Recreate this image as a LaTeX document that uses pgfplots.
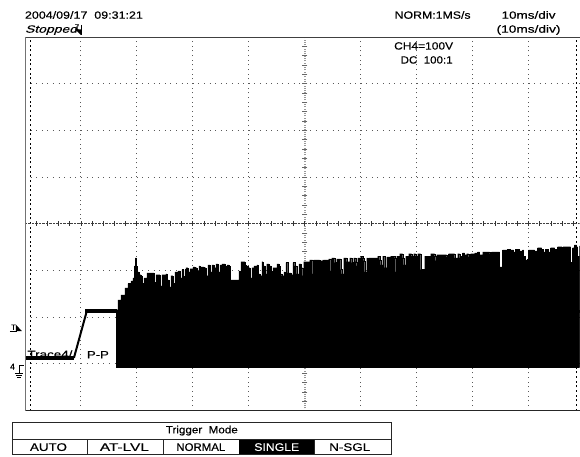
\documentclass[border=0pt]{standalone}
\usepackage{fontspec}
\setmainfont[FakeBold=0.35]{Liberation Sans}
\newfontfamily\fbi[FakeBold=0.35,FakeSlant=0.25]{Liberation Sans}
\usepackage{pgfplots}
\usepackage{pgfplotstable}
\pgfplotsset{compat=1.18}
\definecolor{griddot}{gray}{0.35}
\pgfplotstableread{
ms V
-33.66 -184
-33.39 -163
-32.86 -152
-32.14 -137
-31.61 -128
-31.07 -122
-30.71 -116
-30.45 -90
-30.27 -73
-30.09 -90
-30 -103
-29.64 -109
-29.29 -111
-29.11 -128
-28.75 -116
-28.21 -105
-27.14 -105
-26.96 -124
-26.79 -139
-26.61 -109
-26.07 -109
-25.89 -133
-25.54 -109
-24.82 -107
-24.64 -120
-24.29 -135
-23.93 -111
-23.57 -128
-23.21 -103
-22.68 -101
-22.32 -116
-21.96 -98
-21.79 -113
-21.43 -98
-21.25 -94
-20.89 -103
-20.54 -96
-20 -92
-19.64 -94
-19.29 -101
-18.93 -90
-18.75 -116
-18.57 -92
-18.04 -94
-17.68 -111
-17.32 -88
-16.96 -103
-16.61 -88
-16.25 -94
-15.89 -86
-15.54 -103
-15.18 -88
-14.82 -86
-14.29 -90
-14.11 -118
-13.93 -88
-13.57 -90
-13.39 -120
-11.96 -120
-11.79 -101
-11.61 -120
-11.43 -81
-10.71 -88
-10.54 -90
-10.18 -94
-9.82 -116
-9.46 -94
-9.11 -90
-8.57 -88
-8.39 -107
-8.04 -111
-7.68 -81
-7.5 -90
-7.14 -107
-6.79 -86
-6.43 -90
-6.07 -101
-5.89 -116
-5.71 -94
-5.36 -94
-5 -86
-4.64 -90
-4.46 -107
-4.11 -111
-3.75 -103
-3.57 -116
-3.39 -83
-3.04 -105
-2.5 -109
-2.14 -83
-1.79 -90
-1.43 -107
-1.07 -86
-0.71 -94
-0.36 -111
-0.18 -81
0.36 -81
0.89 -77
1.25 -77
1.43 -107
1.61 -77
2.32 -77
2.68 -79
3.21 -77
3.3 -107
3.39 -77
4.29 -75
4.64 -101
4.82 -73
5.36 -83
5.71 -75
6.25 -75
6.43 -98
6.61 -107
6.96 -73
7.5 -81
8.04 -73
8.39 -83
8.75 -73
9.11 -81
9.29 -90
9.46 -73
10 -69
10.36 -73
10.54 -79
10.71 -103
11.07 -73
11.25 -103
11.43 -73
12.5 -73
13.04 -69
13.39 -77
13.57 -88
13.93 -69
14.29 -94
14.46 -94
14.64 -71
15.36 -69
16.07 -73
16.25 -103
16.43 -69
16.96 -64
17.5 -73
17.68 -88
18.04 -69
18.57 -64
19.11 -69
19.46 -64
19.82 -69
20.18 -64
20.54 -64
20.71 -98
21.25 -98
21.43 -69
21.96 -69
22.5 -64
23.21 -69
23.39 -79
23.57 -66
25 -66
25.36 -71
25.71 -64
26.43 -64
26.79 -73
27.32 -64
27.68 -73
27.86 -69
28.21 -62
28.57 -66
28.93 -64
29.29 -71
29.64 -64
30.36 -62
30.89 -60
31.25 -66
31.79 -60
32.5 -60
33.04 -64
33.39 -60
34.73 -60
34.82 -92
35.27 -92
35.36 -56
36.07 -56
36.25 -54
36.79 -56
37.32 -60
37.68 -54
38.39 -58
38.93 -56
39.11 -69
39.46 -77
39.82 -75
40 -56
40.54 -56
41.07 -58
41.61 -51
42.32 -54
42.68 -60
43.04 -54
43.57 -60
43.93 -51
44.64 -54
45.18 -49
45.89 -49
45.98 -83
46.16 -49
47.32 -49
47.5 -83
47.77 -83
47.86 -51
48.21 -45
48.57 -49
48.75 -69
49.107 -47
}\envelope
\newcommand{\lbl}[4]{\node[inner sep=0pt,outer sep=0pt] at (#1,#2) {\resizebox{#3pt}{\height}{#4}};}
\begin{document}
\begin{tikzpicture}
\path (0,0) rectangle (580pt,457pt);
\begin{axis}[
  at={(25pt,46pt)},anchor=south west,
  scale only axis,width=555pt,height=374pt,
  xmin=-50,xmax=49.107,ymin=-400,ymax=400,
  xtick={-40,-30,-20,-10,10,20,30,40},
  ytick={-300,-200,-100,100,200,300},
  xticklabels={},yticklabels={},
  tick style={draw=none},
  grid=major,
  x grid style={griddot,line width=0.9pt,dash pattern=on 1pt off 3.67pt},
  y grid style={griddot,line width=0.9pt,dash pattern=on 1pt off 4.6pt},
  axis line style={draw=none},
  clip=true,
]
% cursors
\addplot[black,line width=1pt,dash pattern=on 2pt off 2.67pt] coordinates {(-49.02,-400) (-49.02,400)};
\addplot[black,line width=1pt,dash pattern=on 2pt off 2.67pt] coordinates {(48.57,-400) (48.57,400)};
% centre cross with scale ticks
\addplot[gray!80,line width=1.6pt,dash pattern=on 1pt off 1.3pt] coordinates {(0,-400) (0,-306)};
\addplot[gray!80,line width=1.6pt,dash pattern=on 1pt off 1.3pt] coordinates {(0,-85) (0,400)};
\addplot[black!75,line width=0.8pt,dash pattern=on 2.5pt off 1pt] coordinates {(-50,0) (49.107,0)};
\addplot[only marks,mark=-,mark size=2.6pt,mark options={black!60,line width=0.9pt}] coordinates {
(0,-380)(0,-360)(0,-340)(0,-320)(0,20)(0,40)(0,60)(0,80)(0,100)(0,120)(0,140)(0,160)(0,180)(0,200)(0,220)(0,240)(0,260)(0,280)(0,300)(0,320)(0,340)(0,360)(0,380)(0,-20)(0,-40)(0,-60)};
\addplot[only marks,mark=|,mark size=2.6pt,mark options={black!80,line width=0.8pt}] coordinates {
(-48,0)(-46,0)(-44,0)(-42,0)(-40,0)(-38,0)(-36,0)(-34,0)(-32,0)(-30,0)(-28,0)(-26,0)(-24,0)(-22,0)(-20,0)(-18,0)(-16,0)(-14,0)(-12,0)(-10,0)(-8,0)(-6,0)(-4,0)(-2,0)(0,0)(2,0)(4,0)(6,0)(8,0)(10,0)(12,0)(14,0)(16,0)(18,0)(20,0)(22,0)(24,0)(26,0)(28,0)(30,0)(32,0)(34,0)(36,0)(38,0)(40,0)(42,0)(44,0)(46,0)(48,0)};
% waveform
\addplot[black,fill=black,line width=0.2pt] coordinates {(-33.66,-306) (-33.66,-184) (49.107,-184) (49.107,-306)} -- cycle;
\addplot[black,fill=black,line width=0.2pt,const plot] table[x=ms,y=V] {\envelope} |- (axis cs:-33.66,-190) -- cycle;
\addplot[black,line width=4pt] coordinates {(-50,-287) (-41.25,-287)};
\addplot[black,line width=2pt] coordinates {(-41.25,-287) (-38.93,-186)};
\addplot[black,line width=4pt] coordinates {(-39.2,-186) (-33.5,-186)};
\end{axis}
\begin{scope}[x=1pt,y=-1pt,yshift=457pt]
\draw[black!75,line width=1pt] (25,37.3) -- (580,37.3);
\draw[black!85,line width=1pt] (25,411) -- (580,411);
\draw[black!55,line width=1.8pt] (25.5,37) -- (25.5,411.5);
\fontsize{10.5}{12}\selectfont
\lbl{84}{15}{118}{2004/09/17\ \ 09:31:21}
\lbl{51}{30}{52}{\fbi Stopped}
\lbl{433}{15}{76}{NORM:1MS/s}
\lbl{529}{15}{54}{10ms/div}
\lbl{529}{30}{64}{(10ms/div)}
\lbl{424}{46}{59}{CH4=100V}
\lbl{427}{60}{52}{DC\ \ 100:1}
\lbl{50}{354.5}{45}{Trace4/}
\lbl{98}{355}{22}{P-P}
% trigger position mark
\draw[black,line width=0.8pt] (81,25)--(81,35);
\fill[black] (81,35)--(75,29)--(81,29.5)--cycle;
\draw[black!70,line width=0.6pt] (75,24.5)--(79,24.5) (77,24.5)--(77,29);
% trigger level mark
\node[inner sep=0pt] at (13.5,327.5) {\fontsize{7.5}{8}\selectfont T};
\draw[black,line width=0.7pt] (10,332)--(17,332);
\fill[black] (16,325)--(22,331.5)--(16,331.5)--cycle;
% ground mark
\node[inner sep=0pt] at (12.5,367) {\fontsize{8.5}{9}\selectfont 4};
\draw[black,line width=0.8pt] (24,366)--(19,366)--(19,374);
\draw[black,line width=0.7pt] (15,374)--(23,374) (16,376)--(22,376) (17,378)--(21,378);
% softkey panel
\fill[black] (239,439.5) rectangle (314.7,455);
\draw[black!85,line width=0.9pt] (12,422.5) rectangle (392,455);
\draw[black!85,line width=0.9pt] (12,439.5) -- (392,439.5);
\draw[black!85,line width=0.9pt] (87.5,439.5)--(87.5,455) (163.5,439.5)--(163.5,455) (314.7,439.5)--(314.7,455);
\lbl{202}{431}{72}{Trigger\ \ Mode}
\fontsize{11}{12}\selectfont
\lbl{48.5}{447.5}{37}{AUTO}
\lbl{124.5}{447.5}{49}{AT-LVL}
\lbl{201}{447.5}{49}{NORMAL}
\node[inner sep=0pt,text=white] at (277,447.5) {\resizebox{45pt}{\height}{SINGLE}};
\lbl{350}{447.5}{41}{N-SGL}
\end{scope}
\end{tikzpicture}
\end{document}
